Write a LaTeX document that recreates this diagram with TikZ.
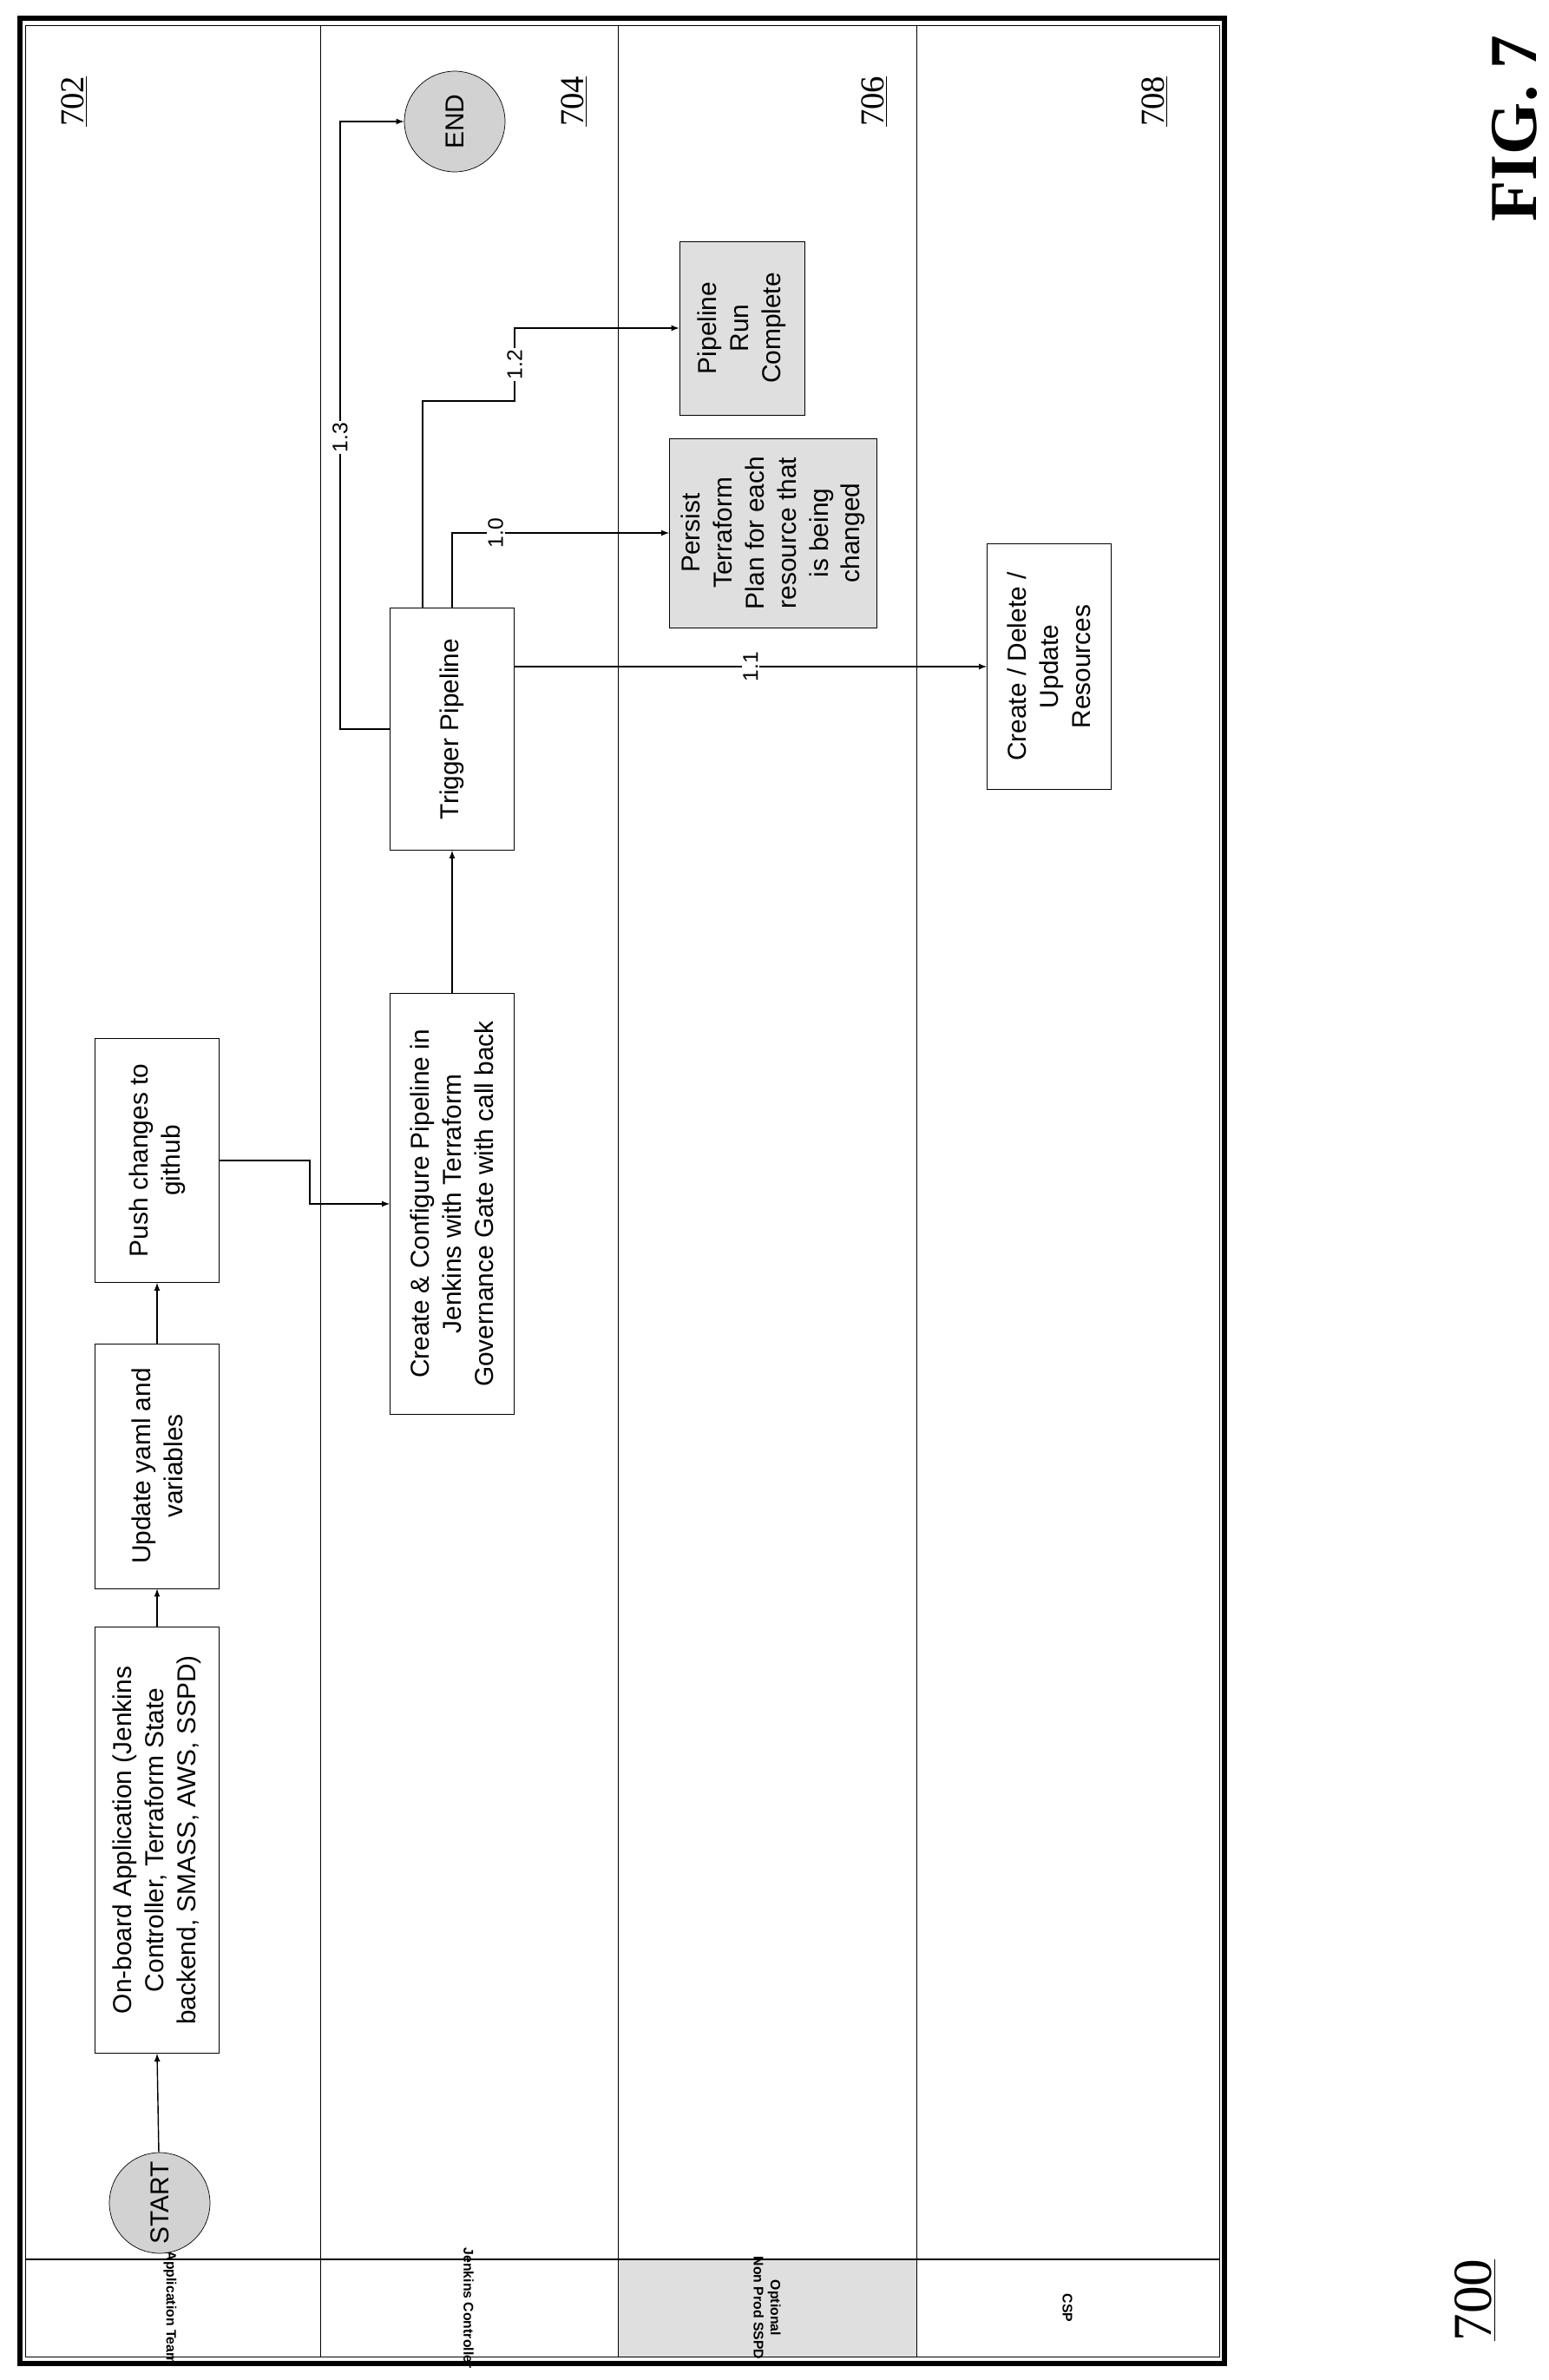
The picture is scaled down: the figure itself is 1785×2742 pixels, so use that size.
\documentclass[tikz,border=0pt]{standalone}
\usepackage{fontspec}
\setmainfont{Liberation Serif}
\setsansfont{Liberation Sans}
\usetikzlibrary{positioning}

\tikzset{
  box/.style={draw, rotate=90, align=center, inner sep=0pt, font=\sffamily\fontsize{17}{21}\selectfont},
  gbox/.style={box, fill=gray!25},
  term/.style={draw, circle, rotate=90, fill=gray!35, inner sep=0pt, minimum size=2.32cm, font=\sffamily\fontsize{17}{21}\selectfont},
  lane/.style={rotate=-90, align=center, font=\sffamily\bfseries\fontsize{9}{11}\selectfont},
  ref/.style={rotate=90, font=\fontsize{22}{24}\selectfont},
  lbl/.style={rotate=90, fill=white, inner sep=1pt, font=\sffamily\fontsize{14}{16}\selectfont},
  flow/.style={->, >=latex, thick}
}

\begin{document}
\begin{tikzpicture}[x=0.02cm, y=-0.02cm]
    \useasboundingbox (0,0) rectangle (1785,2742);

    % Frame and lanes
    \draw[line width=3pt] (23,21) rectangle (1411,2723);
    \draw (29,29) rectangle (1405,2715);
    \fill[gray!25] (712,2603) rectangle (1056,2715);
    \draw[thick] (29,2603) -- (1405,2603);
    \foreach \lx in {369,712,1056}
        \draw (\lx,29) -- (\lx,2715);

    % Lane headers
    \node[lane] (hApp) at (196,2659) {Application Team};
    \node[lane] (hJen) at (540,2659) {Jenkins Controller};
    \node[lane] (hSspd) at (884,2659) {Optional\\Non Prod SSPD};
    \node[lane] (hCsp) at (1230,2659) {CSP};

    % Reference numerals
    \node[ref] (r702) at (86,117) {\underline{702}};
    \node[ref] (r704) at (662,117) {\underline{704}};
    \node[ref] (r706) at (1008,117) {\underline{706}};
    \node[ref] (r708) at (1331,117) {\underline{708}};
    \node[ref, font=\fontsize{36}{38}\selectfont] (r700) at (1700,2650) {\underline{700}};
    \node[rotate=90, font=\bfseries\fontsize{44}{46}\selectfont] (fig) at (1745,148) {FIG. 7};

    % Application team
    \node[term] (start) at (184,2538) {START};
    \node[box, minimum width=9.82cm, minimum height=2.86cm] (onb) at (181,2120)
        {On-board Application (Jenkins\\Controller, Terraform State\\backend, SMASS, AWS, SSPD)};
    \node[box, minimum width=5.64cm, minimum height=2.86cm] (yaml) at (181,1689)
        {Update yaml and\\variables};
    \node[box, minimum width=5.62cm, minimum height=2.86cm] (push) at (181,1337)
        {Push changes to\\github};

    % Jenkins controller
    \node[box, minimum width=9.7cm, minimum height=2.86cm] (create) at (521,1387)
        {Create \& Configure Pipeline in\\Jenkins with Terraform\\Governance Gate with call back};
    \node[box, minimum width=5.58cm, minimum height=2.86cm] (trig) at (521,840) {Trigger Pipeline};
    \node[term] (endn) at (524,140) {END};

    % SSPD and CSP
    \node[gbox, minimum width=4.36cm, minimum height=4.78cm] (pers) at (891,614)
        {Persist\\Terraform\\Plan for each\\resource that\\is being\\changed};
    \node[gbox, minimum width=4cm, minimum height=2.88cm] (prc) at (855,378)
        {Pipeline\\Run\\Complete};
    \node[box, minimum width=5.66cm, minimum height=2.86cm] (cdu) at (1209,768)
        {Create / Delete /\\Update\\Resources};

    \coordinate (j1) at (357,1337);
    \coordinate (c12) at (593,462);
    \coordinate (c13) at (392,840);

    % Connectors
    \draw[flow] (start) -- (onb.west);
    \draw[flow] (onb.east) -- (yaml.west);
    \draw[flow] (yaml.east) -- (push.west);
    \draw[flow] (push.south) -- (j1) |- (create.north);
    \draw[flow] (create.east) -- (trig.west);
    \draw[flow] (trig.south |- cdu.north) -- node[lbl] {1.1} (cdu.north);
    \draw[flow] (trig.east) |- node[lbl, pos=0.6] {1.0} (pers.north);
    \draw[flow] ([xshift=-0.68cm]trig.east) |- (c12) |- node[lbl, pos=0.25] {1.2} (prc.north);
    \draw[flow] (trig.north) -- (c13) |- node[lbl, pos=0.24] {1.3} (endn.north);
\end{tikzpicture}
\end{document}
